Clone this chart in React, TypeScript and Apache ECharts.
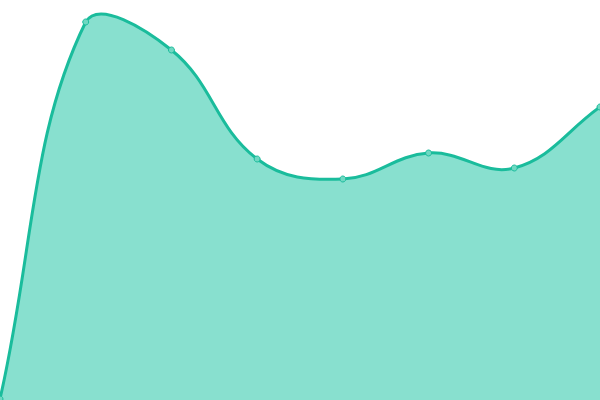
import { useEffect, useRef } from 'react';
import * as echarts from 'echarts';

const categories = ['1', '2', '3', '4', '5', '6', '7', '8'];
const values = [1, 378, 350, 241, 221, 247, 232, 293];

const LINE = '#1abc9c';
const FILL = '#88e0cf';
const TENSION = 0.4;

// spline control points, distance weighted (Chart.js style)
function controlPoints(pts: number[][], area: { x: number; y: number; width: number; height: number }) {
  const clampX = (v: number) => Math.max(area.x, Math.min(area.x + area.width, v));
  const clampY = (v: number) => Math.max(area.y, Math.min(area.y + area.height, v));
  return pts.map((cur, i) => {
    const prev = pts[i - 1] || cur;
    const next = pts[i + 1] || cur;
    const d01 = Math.hypot(cur[0] - prev[0], cur[1] - prev[1]);
    const d12 = Math.hypot(next[0] - cur[0], next[1] - cur[1]);
    let s01 = d01 / (d01 + d12);
    let s12 = d12 / (d01 + d12);
    if (isNaN(s01)) s01 = 0;
    if (isNaN(s12)) s12 = 0;
    const fa = TENSION * s01;
    const fb = TENSION * s12;
    const dx = next[0] - prev[0];
    const dy = next[1] - prev[1];
    return {
      before: [clampX(cur[0] - fa * dx), clampY(cur[1] - fa * dy)],
      after: [clampX(cur[0] + fb * dx), clampY(cur[1] + fb * dy)],
    };
  });
}

export default function App() {
  const ref = useRef<HTMLDivElement>(null);

  useEffect(() => {
    if (!ref.current) return;
    const chart = echarts.init(ref.current, undefined, { renderer: 'svg' });
    chart.setOption({
      animation: false,
      grid: { left: 0, right: 0, top: 0, bottom: 0 },
      xAxis: {
        type: 'category',
        data: categories,
        boundaryGap: false,
        show: false,
      },
      yAxis: { type: 'value', min: 0, max: 400, show: false },
      series: [
        {
          type: 'custom',
          z: 2,
          silent: true,
          data: values.map((v, i) => [i, v]),
          encode: { x: 0, y: 1 },
          renderItem: (params: any, api: any) => {
            if (params.dataIndex !== 0) return null;
            const area = params.coordSys;
            const pts = values.map((v, i) => api.coord([i, v]));
            const cps = controlPoints(pts, area);
            let d = `M${pts[0][0]},${pts[0][1]}`;
            for (let i = 1; i < pts.length; i++) {
              const a = cps[i - 1].after;
              const b = cps[i].before;
              d += ` C${a[0]},${a[1]} ${b[0]},${b[1]} ${pts[i][0]},${pts[i][1]}`;
            }
            const bottom = area.y + area.height;
            const fill = `${d} L${pts[pts.length - 1][0]},${bottom} L${pts[0][0]},${bottom} Z`;
            return {
              type: 'group',
              children: [
                {
                  type: 'path',
                  shape: { pathData: fill },
                  style: { fill: FILL, stroke: 'none' },
                },
                {
                  type: 'path',
                  shape: { pathData: d },
                  style: { fill: 'none', stroke: LINE, lineWidth: 3 },
                },
              ],
            };
          },
        },
        {
          type: 'line',
          z: 3,
          data: values,
          symbol: 'circle',
          symbolSize: 6,
          itemStyle: { color: '#6fd8c2', borderColor: LINE, borderWidth: 1 },
          lineStyle: { width: 0, opacity: 0 },
        },
      ],
    });
    return () => chart.dispose();
  }, []);

  return (
    <div
      ref={ref}
      style={{ position: 'absolute', left: 0, top: 0, width: 600, height: 400 }}
    />
  );
}
